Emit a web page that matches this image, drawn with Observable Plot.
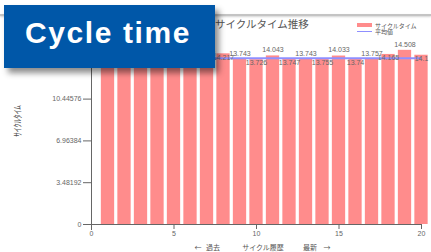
<!DOCTYPE html>
<html><head><meta charset="utf-8">
<script src="https://cdn.jsdelivr.net/npm/d3@7"></script>
<script src="https://cdn.jsdelivr.net/npm/@observablehq/plot@0.6"></script>
<style>
html,body{margin:0;padding:0;background:#fff;}
#wrap{position:relative;width:431px;height:252px;overflow:hidden;background:#fff;font-family:"Noto Sans CJK JP","Noto Sans",sans-serif;}
#wrap svg{position:absolute;left:0;top:0;}
.abs{position:absolute;white-space:nowrap;line-height:1;}
#topline{position:absolute;left:0;top:14px;width:431px;height:0;border-top:2px solid #c4c4c4;box-shadow:0 1px 2px rgba(0,0,0,0.18);}
#title{left:215px;top:19px;font-size:10.5px;color:#555;}
#badge{position:absolute;left:4px;top:5px;width:211px;height:63px;background:#0057a8;box-shadow:4px 5px 6px rgba(0,0,0,0.45);}
#badge span{position:absolute;left:21px;top:13px;font-family:"Liberation Sans",Arial,sans-serif;font-weight:bold;font-size:30px;color:#fff;letter-spacing:1.6px;line-height:1;}
.leg{font-size:6px;color:#555;}
.xl{font-size:7px;color:#555;top:244px;}
#ylab{left:17px;top:121px;font-size:9px;color:#555;transform:translate(-50%,-50%) rotate(-90deg);}
</style></head><body><div id="wrap"></div>
<script>
const cycleIndex = [1,2,3,4,5,6,7,8,9,10,11,12,13,14,15,16,17,18,19,20];
const cycleTimes = [14.139,13.742,14.05,13.751,14.028,13.745,13.76,14.217,13.743,13.726,14.043,13.747,13.743,13.755,14.033,13.74,13.757,14.165,14.508,14.1];
const averageValue = 13.84;
const xTicks = [0,5,10,15,20];
const yTicks = [0,3.48192,6.96384,10.44576,13.92768,17.4096];
const yDomain = [0,17.4096];
const xDomain = [0,20];
const badgeText = "Cycle time";
const titleText = "サイクルタイム推移";
const legendLabels = ["サイクルタイム","平均値"];
const yLabel = "ｻｲｸﾙﾀｲﾑ";
const xLabelParts = ["←","過去","サイクル履歴","最新","→"];

const data = cycleIndex.map((i,k)=>({i, v: cycleTimes[k]}));
const wrap = document.getElementById("wrap");

const chart = Plot.plot({
  width:431, height:252,
  marginLeft:91, marginRight:10, marginTop:15, marginBottom:28,
  style:{fontFamily:"'Liberation Sans',Arial,sans-serif", fontSize:"7px", color:"#666", background:"transparent"},
  x:{domain:xDomain, ticks:xTicks, tickSize:5, tickPadding:2, label:null},
  y:{domain:yDomain, ticks:yTicks, tickSize:8, tickPadding:2, tickFormat:d=>String(d), label:null},
  marks:[
    Plot.rectY(data,{x1:d=>d.i-0.5, x2:d=>d.i+0.5, y:"v", fill:"#ff8c8c", insetLeft:1.6, insetRight:1.6}),
    Plot.ruleY([averageValue],{x1:d3.min(cycleIndex), x2:d3.max(cycleIndex), stroke:"#8f8fff", strokeWidth:2}),
    Plot.ruleX([0],{stroke:"#666", insetBottom:-6}),
    Plot.ruleY([0],{stroke:"#666", insetLeft:-8}),
    Plot.text(data.filter(d=>d.i%2===1),{x:"i", y:"v", text:d=>String(d.v), dy:-6, fill:"#666", fontSize:7}),
    Plot.text(data.filter(d=>d.i%2===0),{x:"i", y:"v", text:d=>String(d.v), dy:3.5, fill:"#666", fontSize:7})
  ]
});
wrap.appendChild(chart);

function addDiv(cls, id, text, style){
  const el = document.createElement("div");
  el.className = cls; if(id) el.id = id;
  el.textContent = text;
  if(style) Object.assign(el.style, style);
  wrap.appendChild(el); return el;
}
const tl = document.createElement("div"); tl.id="topline"; wrap.appendChild(tl);
addDiv("abs","title",titleText);
// legend
const sw1 = document.createElement("div"); Object.assign(sw1.style,{position:"absolute",left:"357px",top:"23px",width:"15px",height:"4px",background:"#ff8c8c"}); wrap.appendChild(sw1);
const sw2 = document.createElement("div"); Object.assign(sw2.style,{position:"absolute",left:"357px",top:"31px",width:"15px",height:"0",borderTop:"1.5px solid #8f8fff"}); wrap.appendChild(sw2);
addDiv("abs leg",null,legendLabels[0],{left:"375px",top:"22.5px"});
addDiv("abs leg",null,legendLabels[1],{left:"375px",top:"28.5px"});
// x label
const xlPos = [198,213,263,310,327];
xLabelParts.forEach((t,k)=>{
  const el = addDiv("abs xl",null,t,{left:xlPos[k]+"px"});
  el.style.transform="translateX(-50%)";
});
addDiv("abs","ylab",yLabel);
// badge
const badge = document.createElement("div"); badge.id="badge";
const bs = document.createElement("span"); bs.textContent = badgeText; badge.appendChild(bs);
wrap.appendChild(badge);
</script></body></html>
